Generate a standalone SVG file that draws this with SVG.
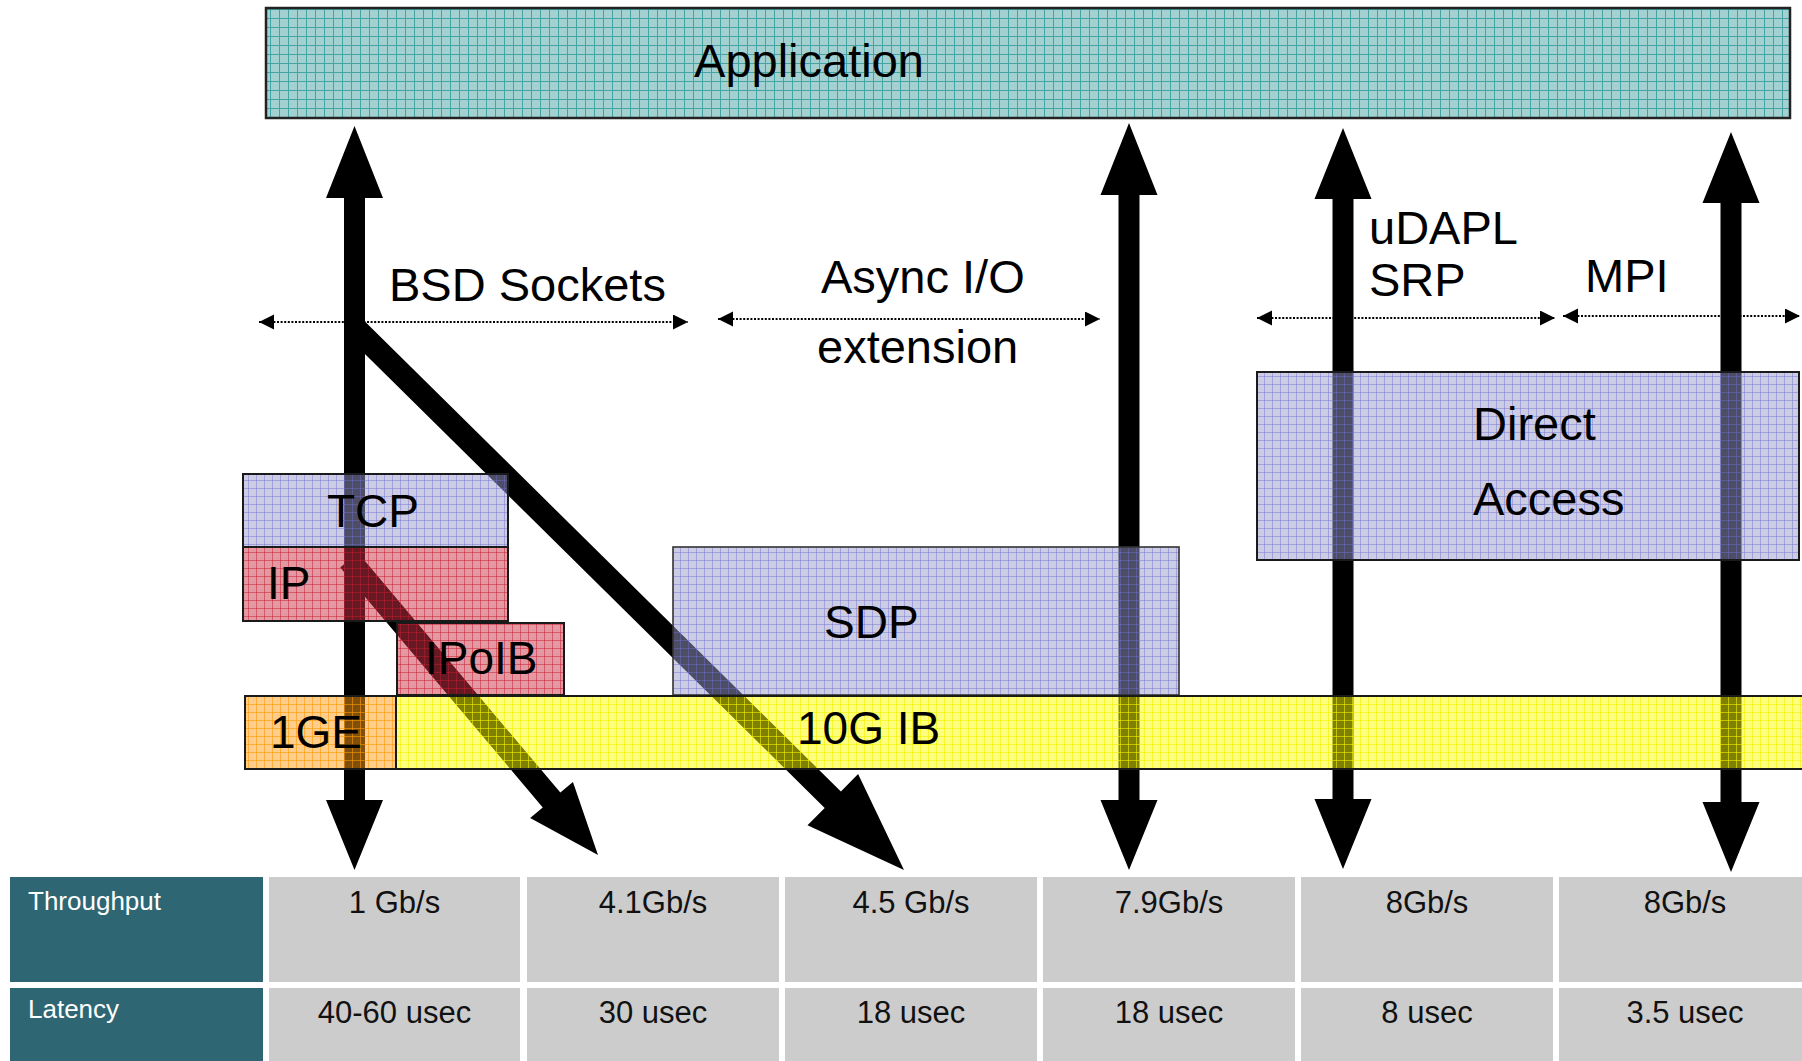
<svg xmlns="http://www.w3.org/2000/svg" width="1802" height="1061" viewBox="0 0 1802 1061">
  <style>
    .lbl { font-family: "Liberation Sans", Arial, sans-serif; font-size: 47px; fill: #000; }
    .box-lbl { font-family: "Liberation Sans", Arial, sans-serif; font-size: 46px; fill: #000; }
    .hdr { font-family: "Liberation Sans", Arial, sans-serif; font-size: 26px; fill: #ffffff; }
    .val { font-family: "Liberation Sans", Arial, sans-serif; font-size: 31px; fill: #111; text-anchor: middle; }
    .cell { fill: #cccccc; }
    .head { fill: #2e6673; }
    .dots { stroke: #000; stroke-width: 2; stroke-dasharray: 2 1.6; fill: none;
            marker-start: url(#tri); marker-end: url(#tri); }
    .arrow { fill: #000; }
    .edge { stroke: #1a1a1a; stroke-width: 2; }
  </style>
  <defs>
    <marker id="tri" markerUnits="userSpaceOnUse" markerWidth="16" markerHeight="16"
            refX="15" refY="7.5" orient="auto-start-reverse">
      <path d="M0,0 L15,7.5 L0,15 z" fill="#000"/>
    </marker>
    <!-- grid pattern fills for the layer boxes -->
    <pattern id="gTeal" width="9" height="9" patternUnits="userSpaceOnUse">
      <rect width="9" height="9" fill="#a3d1d1"/>
      <path d="M0 0.5H9M0.5 0V9" stroke="#45a3a3" stroke-width="1"/>
    </pattern>
    <pattern id="gLav" width="8" height="8" patternUnits="userSpaceOnUse">
      <rect width="8" height="8" fill="#9999cc" fill-opacity="0.5"/>
      <path d="M0 0.5H8M0.5 0V8" stroke="#6f6fd0" stroke-opacity="0.45" stroke-width="1"/>
    </pattern>
    <pattern id="gPink" width="8" height="8" patternUnits="userSpaceOnUse">
      <rect width="8" height="8" fill="#c83246" fill-opacity="0.5"/>
      <path d="M0 0.5H8M0.5 0V8" stroke="#c81e32" stroke-opacity="0.5" stroke-width="1"/>
    </pattern>
    <pattern id="gOrange" width="8" height="8" patternUnits="userSpaceOnUse">
      <rect width="8" height="8" fill="#ff9b19" fill-opacity="0.5"/>
      <path d="M0 0.5H8M0.5 0V8" stroke="#ff9900" stroke-opacity="0.6" stroke-width="1"/>
    </pattern>
    <pattern id="gYellow" width="8" height="8" patternUnits="userSpaceOnUse">
      <rect width="8" height="8" fill="#ffff00" fill-opacity="0.5"/>
      <path d="M0 0.5H8M0.5 0V8" stroke="#f0f000" stroke-opacity="0.6" stroke-width="1"/>
    </pattern>
  </defs>

  <rect width="1802" height="1061" fill="#ffffff"/>

  <!-- API scope ranges (dotted double arrows) and data paths -->
  <g id="connectors">
    <line class="dots" x1="259" y1="322" x2="688" y2="322"/>
    <line class="dots" x1="718" y1="319" x2="1100" y2="319"/>
    <line class="dots" x1="1257" y1="318" x2="1555" y2="318"/>
    <line class="dots" x1="1563" y1="316" x2="1800" y2="316"/>

    <!-- vertical paths: application down to the wire -->
    <polygon id="path-sockets" class="arrow" points="354.5,126 383,198 365,198 365,800 383,800 354.5,870 326,800 344,800 344,198 326,198"/>
    <polygon id="path-sdp" class="arrow" points="1129,123 1157.5,195 1139.5,195 1139.5,800 1157.5,800 1129,870 1100.5,800 1118.5,800 1118.5,195 1100.5,195"/>
    <polygon id="path-udapl" class="arrow" points="1343,128 1371.5,199 1353.5,199 1353.5,799 1371.5,799 1343,869 1314.5,799 1332.5,799 1332.5,199 1314.5,199"/>
    <polygon id="path-mpi" class="arrow" points="1731,132 1759.5,203 1741.5,203 1741.5,802 1759.5,802 1731,872 1702.5,802 1720.5,802 1720.5,203 1702.5,203"/>

    <!-- branches off the sockets path -->
    <polygon id="path-ipoib" class="arrow" points="357.79,552.58 560.35,792.56 572.96,781.92 598,855 530.16,818.04 542.77,807.4 340.21,567.42"/>
    <polygon id="path-sdp-sockets" class="arrow" points="360.1,316.8 840.9,791.5 858.1,774.1 904,870 807.5,825.3 824.7,807.9 343.9,333.2"/>
  </g>

  <!-- layer boxes -->
  <g id="application">
    <rect x="266" y="8" width="1524" height="110" fill="url(#gTeal)" stroke="#222" stroke-width="2.5"/>
    <text class="lbl" x="809" y="77" text-anchor="middle">Application</text>
  </g>

  <g id="tcp">
    <rect class="edge" x="243" y="474" width="265" height="73" fill="url(#gLav)"/>
    <text class="box-lbl" x="327" y="527">TCP</text>
  </g>

  <g id="ip">
    <rect class="edge" x="243" y="547" width="265" height="74" fill="url(#gPink)"/>
    <text class="box-lbl" x="267" y="599">IP</text>
  </g>

  <g id="ipoib">
    <rect class="edge" x="397" y="623" width="167" height="72" fill="url(#gPink)"/>
    <text class="box-lbl" x="425" y="674">IPoIB</text>
  </g>

  <g id="sdp">
    <rect x="673" y="547" width="506" height="148" fill="url(#gLav)" stroke="#333" stroke-width="1.6"/>
    <text class="box-lbl" x="824" y="638">SDP</text>
  </g>

  <g id="direct-access">
    <rect class="edge" x="1257" y="372" width="542" height="188" fill="url(#gLav)"/>
    <text class="lbl" x="1473" y="440">Direct</text>
    <text class="lbl" x="1473" y="515">Access</text>
  </g>

  <g id="ge1">
    <rect class="edge" x="245" y="696" width="151" height="73" fill="url(#gOrange)"/>
    <text class="box-lbl" x="270" y="748">1GE</text>
  </g>

  <g id="ib10g">
    <rect class="edge" x="396" y="696" width="1420" height="73" fill="url(#gYellow)"/>
    <text class="box-lbl" x="797" y="744">10G IB</text>
  </g>

  <!-- API labels -->
  <g id="api-labels">
    <text class="lbl" x="389" y="301">BSD Sockets</text>
    <text class="lbl" x="821" y="293">Async I/O</text>
    <text class="lbl" x="817" y="363">extension</text>
    <text class="lbl" x="1369" y="244">uDAPL</text>
    <text class="lbl" x="1369" y="296">SRP</text>
    <text class="lbl" x="1585" y="292">MPI</text>
  </g>

  <!-- performance table -->
  <g id="perf-table">
    <rect class="head" x="10" y="877" width="253" height="105"/>
    <rect class="head" x="10" y="988" width="253" height="80"/>
    <text class="hdr" x="28" y="910">Throughput</text>
    <text class="hdr" x="28" y="1018">Latency</text>

    <rect class="cell" x="269" y="877" width="251" height="105"/>
    <rect class="cell" x="527" y="877" width="252" height="105"/>
    <rect class="cell" x="785" y="877" width="252" height="105"/>
    <rect class="cell" x="1043" y="877" width="252" height="105"/>
    <rect class="cell" x="1301" y="877" width="252" height="105"/>
    <rect class="cell" x="1559" y="877" width="252" height="105"/>

    <rect class="cell" x="269" y="988" width="251" height="80"/>
    <rect class="cell" x="527" y="988" width="252" height="80"/>
    <rect class="cell" x="785" y="988" width="252" height="80"/>
    <rect class="cell" x="1043" y="988" width="252" height="80"/>
    <rect class="cell" x="1301" y="988" width="252" height="80"/>
    <rect class="cell" x="1559" y="988" width="252" height="80"/>

    <text class="val" x="394.5" y="913">1 Gb/s</text>
    <text class="val" x="653" y="913">4.1Gb/s</text>
    <text class="val" x="911" y="913">4.5 Gb/s</text>
    <text class="val" x="1169" y="913">7.9Gb/s</text>
    <text class="val" x="1427" y="913">8Gb/s</text>
    <text class="val" x="1685" y="913">8Gb/s</text>

    <text class="val" x="394.5" y="1023">40-60 usec</text>
    <text class="val" x="653" y="1023">30 usec</text>
    <text class="val" x="911" y="1023">18 usec</text>
    <text class="val" x="1169" y="1023">18 usec</text>
    <text class="val" x="1427" y="1023">8 usec</text>
    <text class="val" x="1685" y="1023">3.5 usec</text>
  </g>
</svg>
